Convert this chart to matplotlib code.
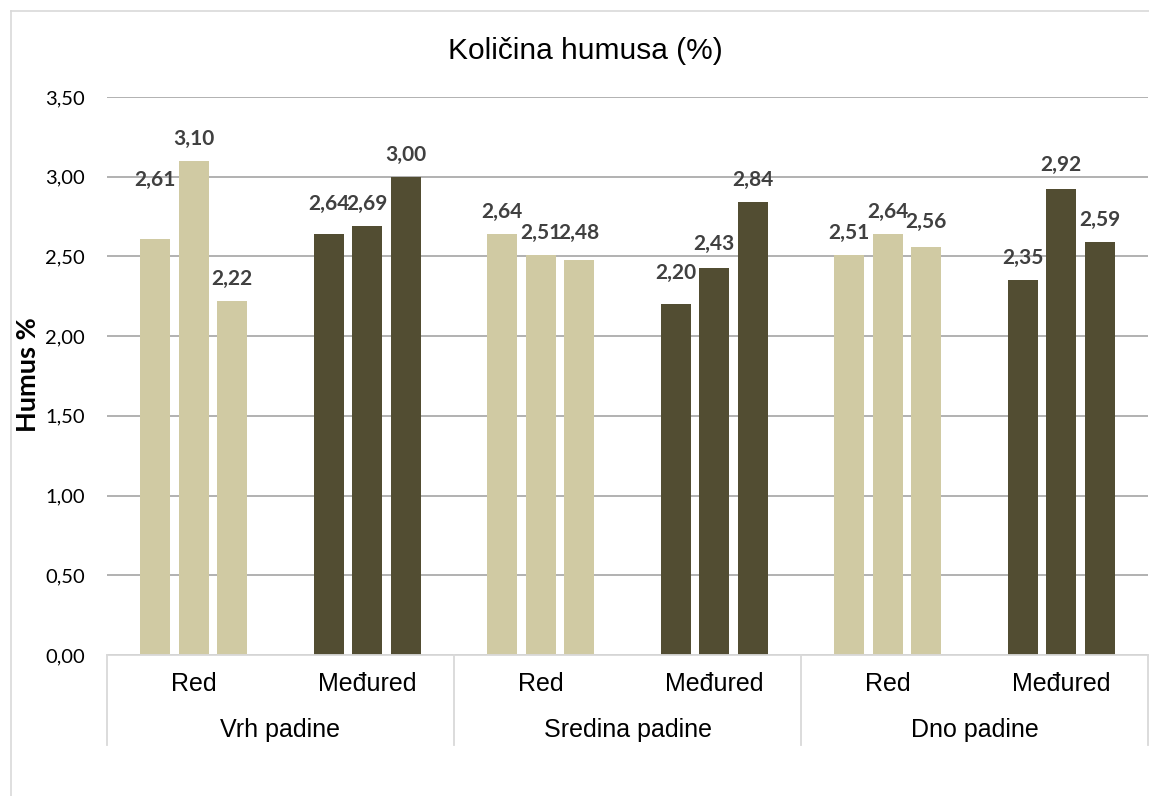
import matplotlib
matplotlib.use("Agg")
import matplotlib.pyplot as plt
from matplotlib.lines import Line2D
import matplotlib.transforms as mtransforms

title = "Količina humusa (%)"
ylabel = "Humus %"
categories = ["Red", "Međured", "Red", "Međured", "Red", "Međured"]
groups = ["Vrh padine", "Sredina padine", "Dno padine"]
values = [
    [2.61, 3.10, 2.22],
    [2.64, 2.69, 3.00],
    [2.64, 2.51, 2.48],
    [2.20, 2.43, 2.84],
    [2.51, 2.64, 2.56],
    [2.35, 2.92, 2.59],
]
yticks = [0.0, 0.5, 1.0, 1.5, 2.0, 2.5, 3.0, 3.5]

light = "#D0CAA3"
dark = "#524D32"
colors = [light, dark, light, dark, light, dark]
# label vertical offsets in pixels (Excel manual positions)
label_dy = [[59, 22, 22], [30, 22, 22], [22, 22, 27], [31, 24, 22], [22, 22, 25], [22, 24, 22]]

W, H = 1149, 796
fig = plt.figure(figsize=(W/100, H/100), dpi=100)
# chart-area border (left and top visible)
fig.lines.append(Line2D([11/W, 11/W], [0, 1 - 11/H], transform=fig.transFigure, color="#d9d9d9", linewidth=1.2))
fig.lines.append(Line2D([11/W, 1], [1 - 11/H, 1 - 11/H], transform=fig.transFigure, color="#d9d9d9", linewidth=1.2))

ax = fig.add_axes([107/W, 141/H, 1041/W, 558/H])

offsets = [-0.222, 0.0, 0.222]
width = 0.173
for i, vals in enumerate(values):
    for j, v in enumerate(vals):
        x = i + offsets[j]
        ax.bar(x, v, width=width, color=colors[i], zorder=3)
        ax.annotate(f"{v:.2f}".replace(".", ","), (x, v), xytext=(0, label_dy[i][j]),
                    textcoords="offset pixels", ha="center", va="center",
                    fontsize=15, fontweight="bold", color="#404040", family="Lato", zorder=4)

ax.set_xlim(-0.5, 5.5)
ax.set_ylim(0, 3.5)
ax.set_yticks(yticks)
ax.set_yticklabels([f"{t:.2f}".replace(".", ",") for t in yticks], fontsize=14.5, family="Lato")
ax.yaxis.grid(True, color="#ababab", linewidth=1.3, zorder=0)
ax.tick_params(axis="y", length=0, pad=16)
ax.set_xticks([])
for s in ["top", "right", "left"]:
    ax.spines[s].set_visible(False)
ax.spines["bottom"].set_color("#d9d9d9")
ax.spines["bottom"].set_linewidth(1.3)
ax.spines["bottom"].set_zorder(5)

trans = mtransforms.blended_transform_factory(ax.transData, ax.transAxes)
axh = 558
for i, c in enumerate(categories):
    ax.text(i, -29/axh, c, transform=trans, ha="center", va="center", fontsize=18, family="Liberation Sans")
for g, name in enumerate(groups):
    ax.text(2*g + 0.5, -75/axh, name, transform=trans, ha="center", va="center", fontsize=18, family="Liberation Sans")
for xb in [-0.5, 1.5, 3.5, 5.5]:
    ax.plot([xb, xb], [0, -90/axh], transform=trans, color="#d9d9d9", linewidth=1.3, clip_on=False)

fig.text(585/W, 1 - 51/H, title, ha="center", va="center", fontsize=21.5, family="Liberation Sans")
fig.text(28/W, 1 - 375/H, ylabel, ha="center", va="center", rotation=90, fontsize=19.5,
         fontweight="bold", family="Lato")

fig.savefig("out.png", dpi=100)
